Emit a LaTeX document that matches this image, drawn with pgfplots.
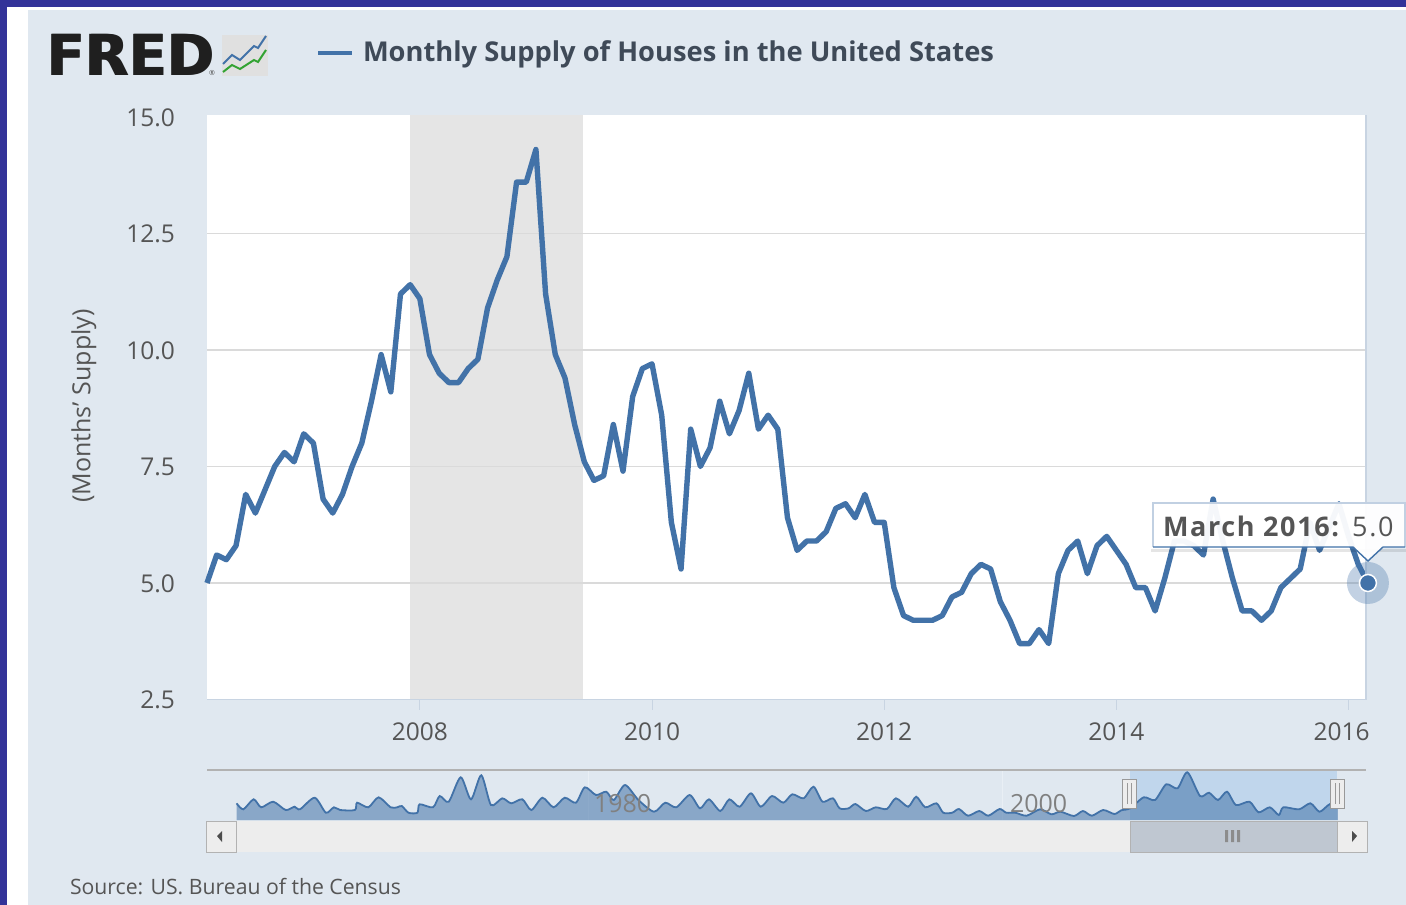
\documentclass[border=0pt]{standalone}
\usepackage{pgfplots}
\pgfplotsset{compat=1.18}
\usepackage{fontspec}
\setmainfont{Open Sans}
\newfontfamily\logofont{DejaVu Sans}
\definecolor{navy}{HTML}{333399}
\definecolor{panel}{HTML}{E0E8F0}
\definecolor{line}{HTML}{4272A8}
\definecolor{txt}{HTML}{555555}
\definecolor{titletxt}{HTML}{3F4A58}
\definecolor{rec}{HTML}{E5E5E5}
\definecolor{gridc}{HTML}{DADADA}
\definecolor{axisc}{HTML}{C8D4E2}
\definecolor{band}{HTML}{C0D6EC}
\definecolor{thumb}{HTML}{BFC7D1}
\pgfplotstableread{
i v
0 5.0
1 5.6
2 5.5
3 5.8
4 6.9
5 6.5
6 7.0
7 7.5
8 7.8
9 7.6
10 8.2
11 8.0
12 6.8
13 6.5
14 6.9
15 7.5
16 8.0
17 8.9
18 9.9
19 9.1
20 11.2
21 11.4
22 11.1
23 9.9
24 9.5
25 9.3
26 9.3
27 9.6
28 9.8
29 10.9
30 11.5
31 12.0
32 13.6
33 13.6
34 14.3
35 11.2
36 9.9
37 9.4
38 8.4
39 7.6
40 7.2
41 7.3
42 8.4
43 7.4
44 9.0
45 9.6
46 9.7
47 8.6
48 6.3
49 5.3
50 8.3
51 7.5
52 7.9
53 8.9
54 8.2
55 8.7
56 9.5
57 8.3
58 8.6
59 8.3
60 6.4
61 5.7
62 5.9
63 5.9
64 6.1
65 6.6
66 6.7
67 6.4
68 6.9
69 6.3
70 6.3
71 4.9
72 4.3
73 4.2
74 4.2
75 4.2
76 4.3
77 4.7
78 4.8
79 5.2
80 5.4
81 5.3
82 4.6
83 4.2
84 3.7
85 3.7
86 4.0
87 3.7
88 5.2
89 5.7
90 5.9
91 5.2
92 5.8
93 6.0
94 5.7
95 5.4
96 4.9
97 4.9
98 4.4
99 5.1
100 5.9
101 5.9
102 5.8
103 5.6
104 6.8
105 5.9
106 5.1
107 4.4
108 4.4
109 4.2
110 4.4
111 4.9
112 5.1
113 5.3
114 6.3
115 5.7
116 6.2
117 6.7
118 6.0
119 5.4
120 5.0
}\supply
\pgfplotstableread{
x h
236.6 16.7
243.3 10.7
253.6 20.7
261.2 12.7
273.2 18.3
285.7 10
294.6 13.3
300 10.7
314.7 22.3
325.9 7.3
333.9 12.7
340.2 10
354.9 10
357.1 17.3
368.3 12.7
378.6 22.7
390.6 12.7
397.3 12.7
401.8 14
408.5 7.3
417.4 7.3
419.6 15.7
433 12.7
439.7 24
448.7 18.3
460.7 42.7
471 20.7
481.3 44.7
491 15
502.2 21.7
511.2 16.7
522.3 20.7
531.3 10
542.4 22.3
553.6 12.7
564.7 22.3
575.9 17.3
584.8 32.7
596 25
606.3 28.3
613.8 20
625 35
638.4 20
654 8.3
665.2 17.3
676.3 12.7
689.7 25
700 11.7
709 20.7
720.3 9
729.3 20.7
739.6 13.3
750.9 26.7
760.8 13.3
772 24
783.3 17.3
792.3 25.7
803.6 21.7
813.5 33.3
822.5 18.3
832.9 21.7
839.6 11.7
848.6 11.7
855.4 16
865.8 9
875.7 12.7
886.9 11
895.9 21.7
908.1 13.3
916.2 23.3
925.2 12.7
936.5 16.7
943.2 7.3
952.3 7.3
959 11
968 4.3
979.3 9
988.3 4.3
999.5 11
1006.3 7.3
1015.3 7.3
1026.6 4.3
1040.1 10.7
1051.4 5.7
1060.4 8.3
1073.9 4
1082.9 9
1091.9 4.3
1103.2 10
1114.4 6
1121.2 9.7
1130.2 11.7
1143.7 22.7
1155 20
1166.2 35.7
1177.5 31.7
1187.4 47.7
1200 24
1209 27.3
1218 20
1227 28.3
1236 15
1249.5 18.3
1258.6 7.7
1269.8 12.7
1278.8 5
1283.3 12.7
1299.1 10.7
1310.4 16.7
1319.4 8.3
1328.4 15
1337.8 20
}\nav
\begin{document}
\begin{tikzpicture}[x=1pt,y=-1pt]
\tikzset{every node/.style={inner sep=0pt,outer sep=0pt}}
% page furniture, in image pixels
\fill[white] (0,0) rectangle (1406,905);
\fill[navy] (0,0) rectangle (1406,7);
\fill[navy] (0,0) rectangle (7,905);
\fill[panel] (28,10) rectangle (1406,905);
% logo and title
\node[anchor=west,font=\logofont\fontsize{56.5}{56.5}\selectfont\bfseries,text=black!88] at (46,55) {FRED};
\node[anchor=west,font=\logofont\fontsize{56.5}{56.5}\selectfont\bfseries,text=black!88] at (47.5,55) {FRED};
\node[anchor=west,font=\fontsize{7}{7}\selectfont,text=black!70] at (209,73) {®};
\fill[black!12] (222,35) rectangle (268,76);
\draw[line,line width=2pt] (223,64)--(232,55)--(240,60)--(254,46)--(258,48)--(266,36);
\draw[green!55!black!80,line width=2pt] (223,72)--(232,65)--(240,69)--(254,60)--(258,62)--(266,50);
\draw[line,line width=3.5pt] (318,53)--(352,53);
\node[anchor=west,font=\fontsize{27.3}{27.3}\selectfont\bfseries,text=titletxt] at (363,54.5) {Monthly Supply of Houses in the United States};
\node[anchor=west,font=\fontsize{21.2}{21.2}\selectfont,text=txt] at (70,887) {Source: US. Bureau of the Census};
\node[rotate=90,font=\fontsize{25}{25}\selectfont,text=txt] at (84,406) {(Months' Supply)};
% navigator furniture
\fill[black!7] (236,821) rectangle (1130,852);
\fill[thumb] (1130,821) rectangle (1337,852);
\draw[black!30,line width=1pt] (1130,821) rectangle (1337,852);
\fill[black!7] (206,821) rectangle (236,852);
\draw[black!30,line width=1pt] (206,821) rectangle (236,852);
\fill[black!7] (1337,821) rectangle (1367,852);
\draw[black!30,line width=1pt] (1337,821) rectangle (1367,852);
\fill[black!70] (217,836)--(222,831)--(222,842)--cycle;
\fill[black!70] (1357,836)--(1352,831)--(1352,842)--cycle;
\fill[black!45] (1225,830) rectangle (1228,842) (1231,830) rectangle (1234,842) (1237,830) rectangle (1240,842);
% main axis
\begin{axis}[
  at={(207pt,-699.5pt)},anchor=south west,
  width=1159pt,height=584.5pt,
  scale only axis,
  xmin=0,xmax=119.8,ymin=2.5,ymax=15.04,
  clip=false,
  axis background/.style={fill=white},
  axis line style={draw=none},
  ytick={2.5,5,7.5,10,12.5,15},
  yticklabels={2.5,5.0,7.5,10.0,12.5,15.0},
  xtick={22,46,70,94},
  xticklabels={2008,2010,2012,2014},
  extra x ticks={118},
  extra x tick labels={2016},
  extra x tick style={xticklabel style={xshift=-7pt}},
  tick style={draw=axisc,line width=1pt},
  major tick length=10pt,
  ytick style={draw=none},
  xtick align=outside,
  xtick pos=bottom,ytick pos=left,
  tick label style={font=\fontsize{24.5}{24.5}\selectfont,text=txt},
  /pgf/number format/assume math mode=true,
  yticklabel style={xshift=-32pt,yshift=-0.7pt},
  xticklabel style={yshift=-13pt},
]
\fill[rec] (axis cs:20.95,2.5) rectangle (axis cs:38.9,15.04);
\pgfplotsinvokeforeach{5,7.5,10,12.5}{\draw[gridc,line width=1.4pt] (axis cs:0,#1)--(axis cs:119.8,#1);}
\addplot[line,line width=5.4pt,line join=round,no marks] table[x=i,y=v]{\supply};
\draw[axisc,line width=1.4pt] (axis cs:119.8,2.5)--(axis cs:119.8,15.04);
\draw[axisc,line width=1.4pt] (axis cs:0,2.5)--(axis cs:119.8,2.5);
\addplot[only marks,mark=*,mark size=21pt,mark options={draw opacity=0,line width=0pt,fill=line,fill opacity=.32}] coordinates {(120,5.0)};
\addplot[only marks,mark=*,mark size=8.5pt,mark options={draw=white,line width=1.5pt,fill=line}] coordinates {(120,5.0)};
\end{axis}
% navigator axis
\begin{axis}[
  at={(207pt,-820pt)},anchor=south west,
  width=1159pt,height=50pt,
  scale only axis,
  xmin=207,xmax=1366,ymin=0,ymax=50,
  clip=false,hide axis,
]
\fill[band] (axis cs:1130,0) rectangle (axis cs:1337,50);
\draw[panel!70!white,line width=.8pt] (axis cs:588,0)--(axis cs:588,50);
\draw[panel!70!white,line width=.8pt] (axis cs:1002,0)--(axis cs:1002,50);
\addplot[fill=line,fill opacity=.55,draw=none,smooth,tension=0.45] table[x=x,y=h]{\nav} \closedcycle;
\addplot[line,line width=1.8pt,no marks,smooth,tension=0.45] table[x=x,y=h]{\nav};
\draw[black!30,line width=1.3pt] (axis cs:207,50)--(axis cs:1366,50);
\node[font=\fontsize{25}{25}\selectfont,text=black!50,anchor=west] at (axis cs:594,16) {1980};
\node[font=\fontsize{25}{25}\selectfont,text=black!50,anchor=west] at (axis cs:1010,16) {2000};
\draw[black!40,fill=black!7,line width=1pt] (axis cs:1122,12) rectangle (axis cs:1136,41);
\draw[black!40,line width=1pt] (axis cs:1127,16) -- (axis cs:1127,37) (axis cs:1131,16) -- (axis cs:1131,37);
\draw[black!40,fill=black!7,line width=1pt] (axis cs:1330,12) rectangle (axis cs:1344,41);
\draw[black!40,line width=1pt] (axis cs:1335,16) -- (axis cs:1335,37) (axis cs:1339,16) -- (axis cs:1339,37);
\end{axis}
% tooltip
\fill[black,fill opacity=.10] (1151,549) rectangle (1406,552);
\fill[white,fill opacity=.95] (1153,503) rectangle (1405,547);
\fill[white,fill opacity=.95] (1353,547)--(1368,561)--(1383,547)--cycle;
\draw[panel!80!line,line width=1.2pt] (1153,547)--(1153,503)--(1405,503)--(1405,547);
\draw[line,line width=1.4pt] (1153,547)--(1353,547)--(1368,561)--(1383,547)--(1405,547);
\node[anchor=west,font=\fontsize{27}{27}\selectfont\addfontfeature{LetterSpace=6},text=txt] at (1163,526) {\textbf{March 2016:} 5.0};
\end{tikzpicture}
\end{document}
